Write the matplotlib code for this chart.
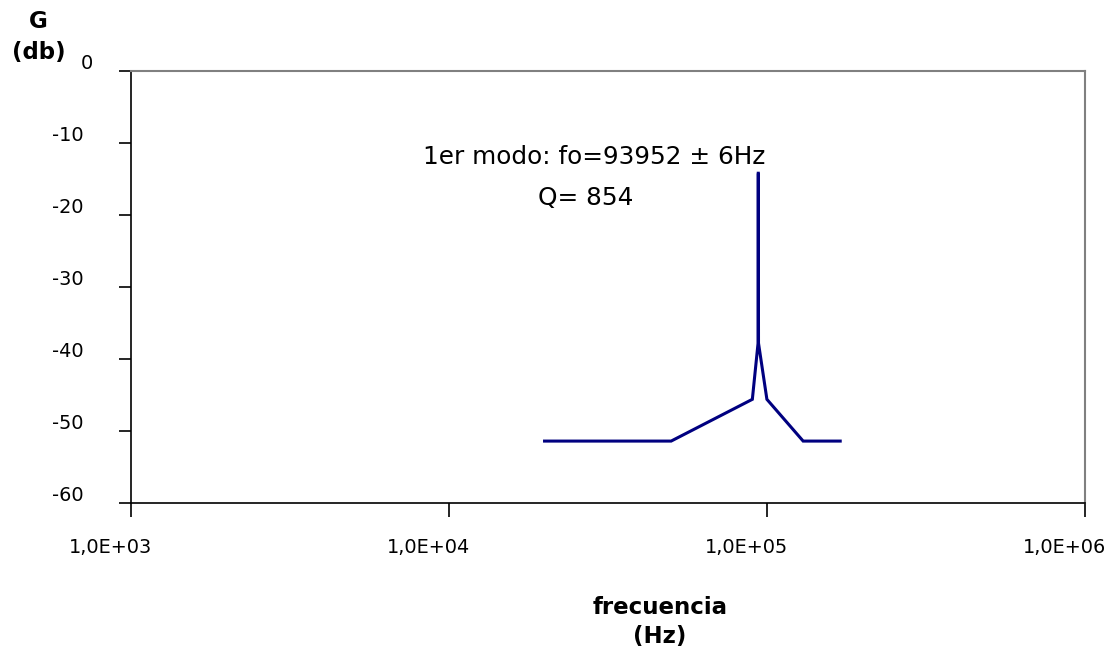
import numpy as np
import matplotlib
matplotlib.use("Agg")
import matplotlib.pyplot as plt
from matplotlib.transforms import ScaledTranslation

# Frequency response of the first mode (frequency in Hz, gain in dB)
freq_hz = [20000, 50000, 90000, 93800, 93940, 93965, 94100, 100000, 130000, 170000]
gain_db = [-51.4, -51.4, -45.6, -37.8, -14.2, -14.2, -37.8, -45.6, -51.4, -51.4]

x_ticks = [1e3, 1e4, 1e5, 1e6]
x_tick_labels = ["1,0E+03", "1,0E+04", "1,0E+05", "1,0E+06"]
y_ticks = [0, -10, -20, -30, -40, -50, -60]

annotation_lines = ["1er modo: fo=93952 \u00b1 6Hz", "Q= 854"]

W, H, DPI = 1117, 652, 100
fig = plt.figure(figsize=(W / DPI, H / DPI), dpi=DPI)
left, right, top, bottom = 130.7, 1085, 71, 503
ax = fig.add_axes([left / W, 1 - bottom / H, (right - left) / W, (bottom - top) / H])

ax.plot(freq_hz, gain_db, color="#000080", lw=2.2, solid_joinstyle="miter")

ax.set_xscale("log")
ax.set_xlim(1e3, 1e6)
ax.set_ylim(-60, 0)
ax.set_xticks(x_ticks)
ax.set_xticklabels(x_tick_labels)
ax.xaxis.set_minor_locator(matplotlib.ticker.NullLocator())
ax.set_yticks(y_ticks)
ax.set_yticklabels([str(v) for v in y_ticks])

ax.tick_params(axis="x", direction="out", length=10, width=1.2, labelsize=13.9,
               pad=15, colors="black")
ax.tick_params(axis="y", direction="out", length=9, width=1.2, labelsize=13.9,
               pad=25, colors="black")

# Spines: dark on the left and bottom, grey on top and right
for side in ("left", "bottom"):
    ax.spines[side].set_color("#000000")
    ax.spines[side].set_linewidth(1.2)
for side in ("top", "right"):
    ax.spines[side].set_color("#808080")
    ax.spines[side].set_linewidth(1.5)

# Label offsets: y labels sit above their ticks, x labels slightly left
to_in = fig.dpi_scale_trans
for lbl in ax.get_yticklabels():
    dx = 10 if lbl.get_text() == "0" else 0
    lbl.set_transform(lbl.get_transform() + ScaledTranslation(dx / DPI, 9.5 / DPI, to_in))
for lbl in ax.get_xticklabels():
    lbl.set_transform(lbl.get_transform() + ScaledTranslation(-20.5 / DPI, 0, to_in))

ax.text(28600, -11.94, annotation_lines[0], ha="center", va="center", fontsize=17.8)
ax.text(26900, -17.6, annotation_lines[1], ha="center", va="center", fontsize=17.8)

fig.text(38 / W, 1 - 21 / H, "G", ha="center", va="center",
         fontsize=16.5, fontweight="bold")
fig.text(38.5 / W, 1 - 52.5 / H, "(db)", ha="center", va="center",
         fontsize=16.5, fontweight="bold")
fig.text(660 / W, 1 - 607 / H, "frecuencia", ha="center", va="center",
         fontsize=16.5, fontweight="bold")
fig.text(660 / W, 1 - 637 / H, "(Hz)", ha="center", va="center",
         fontsize=16.5, fontweight="bold")

fig.savefig("out.png", dpi=DPI)
